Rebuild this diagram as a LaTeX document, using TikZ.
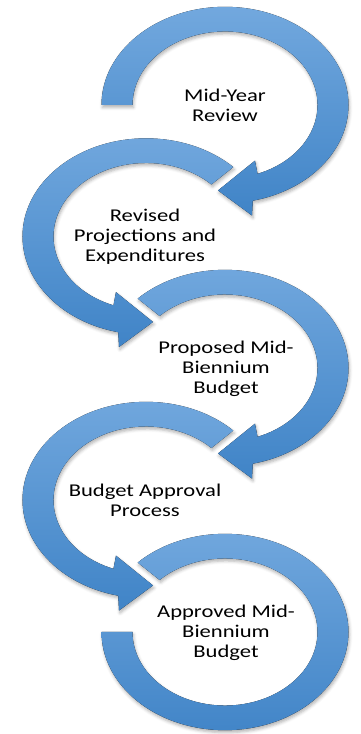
\documentclass[tikz,border=0pt]{standalone}
\usepackage{fontspec}
\setmainfont{Carlito}
\usetikzlibrary{shadows.blur}
\definecolor{ctop}{RGB}{114,168,222}
\definecolor{cbot}{RGB}{64,132,199}
\tikzset{
  ringshape/.style={top color=ctop, bottom color=cbot, draw=none,
    blur shadow={shadow xshift=1pt, shadow yshift=-2.5pt, shadow blur radius=3pt, shadow opacity=30}},
  lbl/.style={align=center, font=\fontsize{22.6}{25}\selectfont, yscale=0.795, inner sep=0pt, text=black},
  ringframe/.style={yscale=0.795}
}
\begin{document}
\begin{tikzpicture}[x=1pt,y=1pt]
\useasboundingbox (0,0) rectangle (360,734);
% ring 5 (bottom, no head)
\begin{scope}[shift={(225,102)}, ringframe]
  \fill[ringshape] (135:123.5pt) arc[start angle=135, end angle=-180, radius=123.5pt]
    -- (180:92.5pt) arc[start angle=-180, end angle=135, radius=92.5pt] -- cycle;
\end{scope}
% ring 4 (left)
\begin{scope}[shift={(146,234)}, ringframe, xscale=-1]
  \fill[ringshape] (135:123.5pt) arc[start angle=135, end angle=-77, radius=123.5pt]
    -- (27pt,-139pt) -- (-7pt,-107.5pt) -- (30pt,-70pt) -- (-69.4:92.5pt)
    arc[start angle=-69.4, end angle=135, radius=92.5pt] -- cycle;
\end{scope}
% ring 3 (right)
\begin{scope}[shift={(225,366)}, ringframe]
  \fill[ringshape] (135:123.5pt) arc[start angle=135, end angle=-77, radius=123.5pt]
    -- (27pt,-139pt) -- (-7pt,-107.5pt) -- (30pt,-70pt) -- (-69.4:92.5pt)
    arc[start angle=-69.4, end angle=135, radius=92.5pt] -- cycle;
\end{scope}
% ring 2 (left)
\begin{scope}[shift={(146,497.5)}, ringframe, xscale=-1]
  \fill[ringshape] (135:123.5pt) arc[start angle=135, end angle=-77, radius=123.5pt]
    -- (27pt,-139pt) -- (-7pt,-107.5pt) -- (30pt,-70pt) -- (-69.4:92.5pt)
    arc[start angle=-69.4, end angle=135, radius=92.5pt] -- cycle;
\end{scope}
% ring 1 (top right)
\begin{scope}[shift={(225,629)}, ringframe]
  \fill[ringshape] (180:123.5pt) arc[start angle=180, end angle=-77, radius=123.5pt]
    -- (27pt,-139pt) -- (-7pt,-107.5pt) -- (30pt,-70pt) -- (-69.4:92.5pt)
    arc[start angle=-69.4, end angle=180, radius=92.5pt] -- cycle;
\end{scope}
% labels
\node[lbl] (t1) at (225,629) {Mid-Year\\Review};
\node[lbl] (t2) at (145,497) {Revised\\Projections and\\Expenditures};
\node[lbl] (t3) at (226,365) {Proposed Mid-\\Biennium\\Budget};
\node[lbl] (t4) at (145,234) {Budget Approval\\Process};
\node[lbl] (t5) at (226,101) {Approved Mid-\\Biennium\\Budget};
\end{tikzpicture}
\end{document}
